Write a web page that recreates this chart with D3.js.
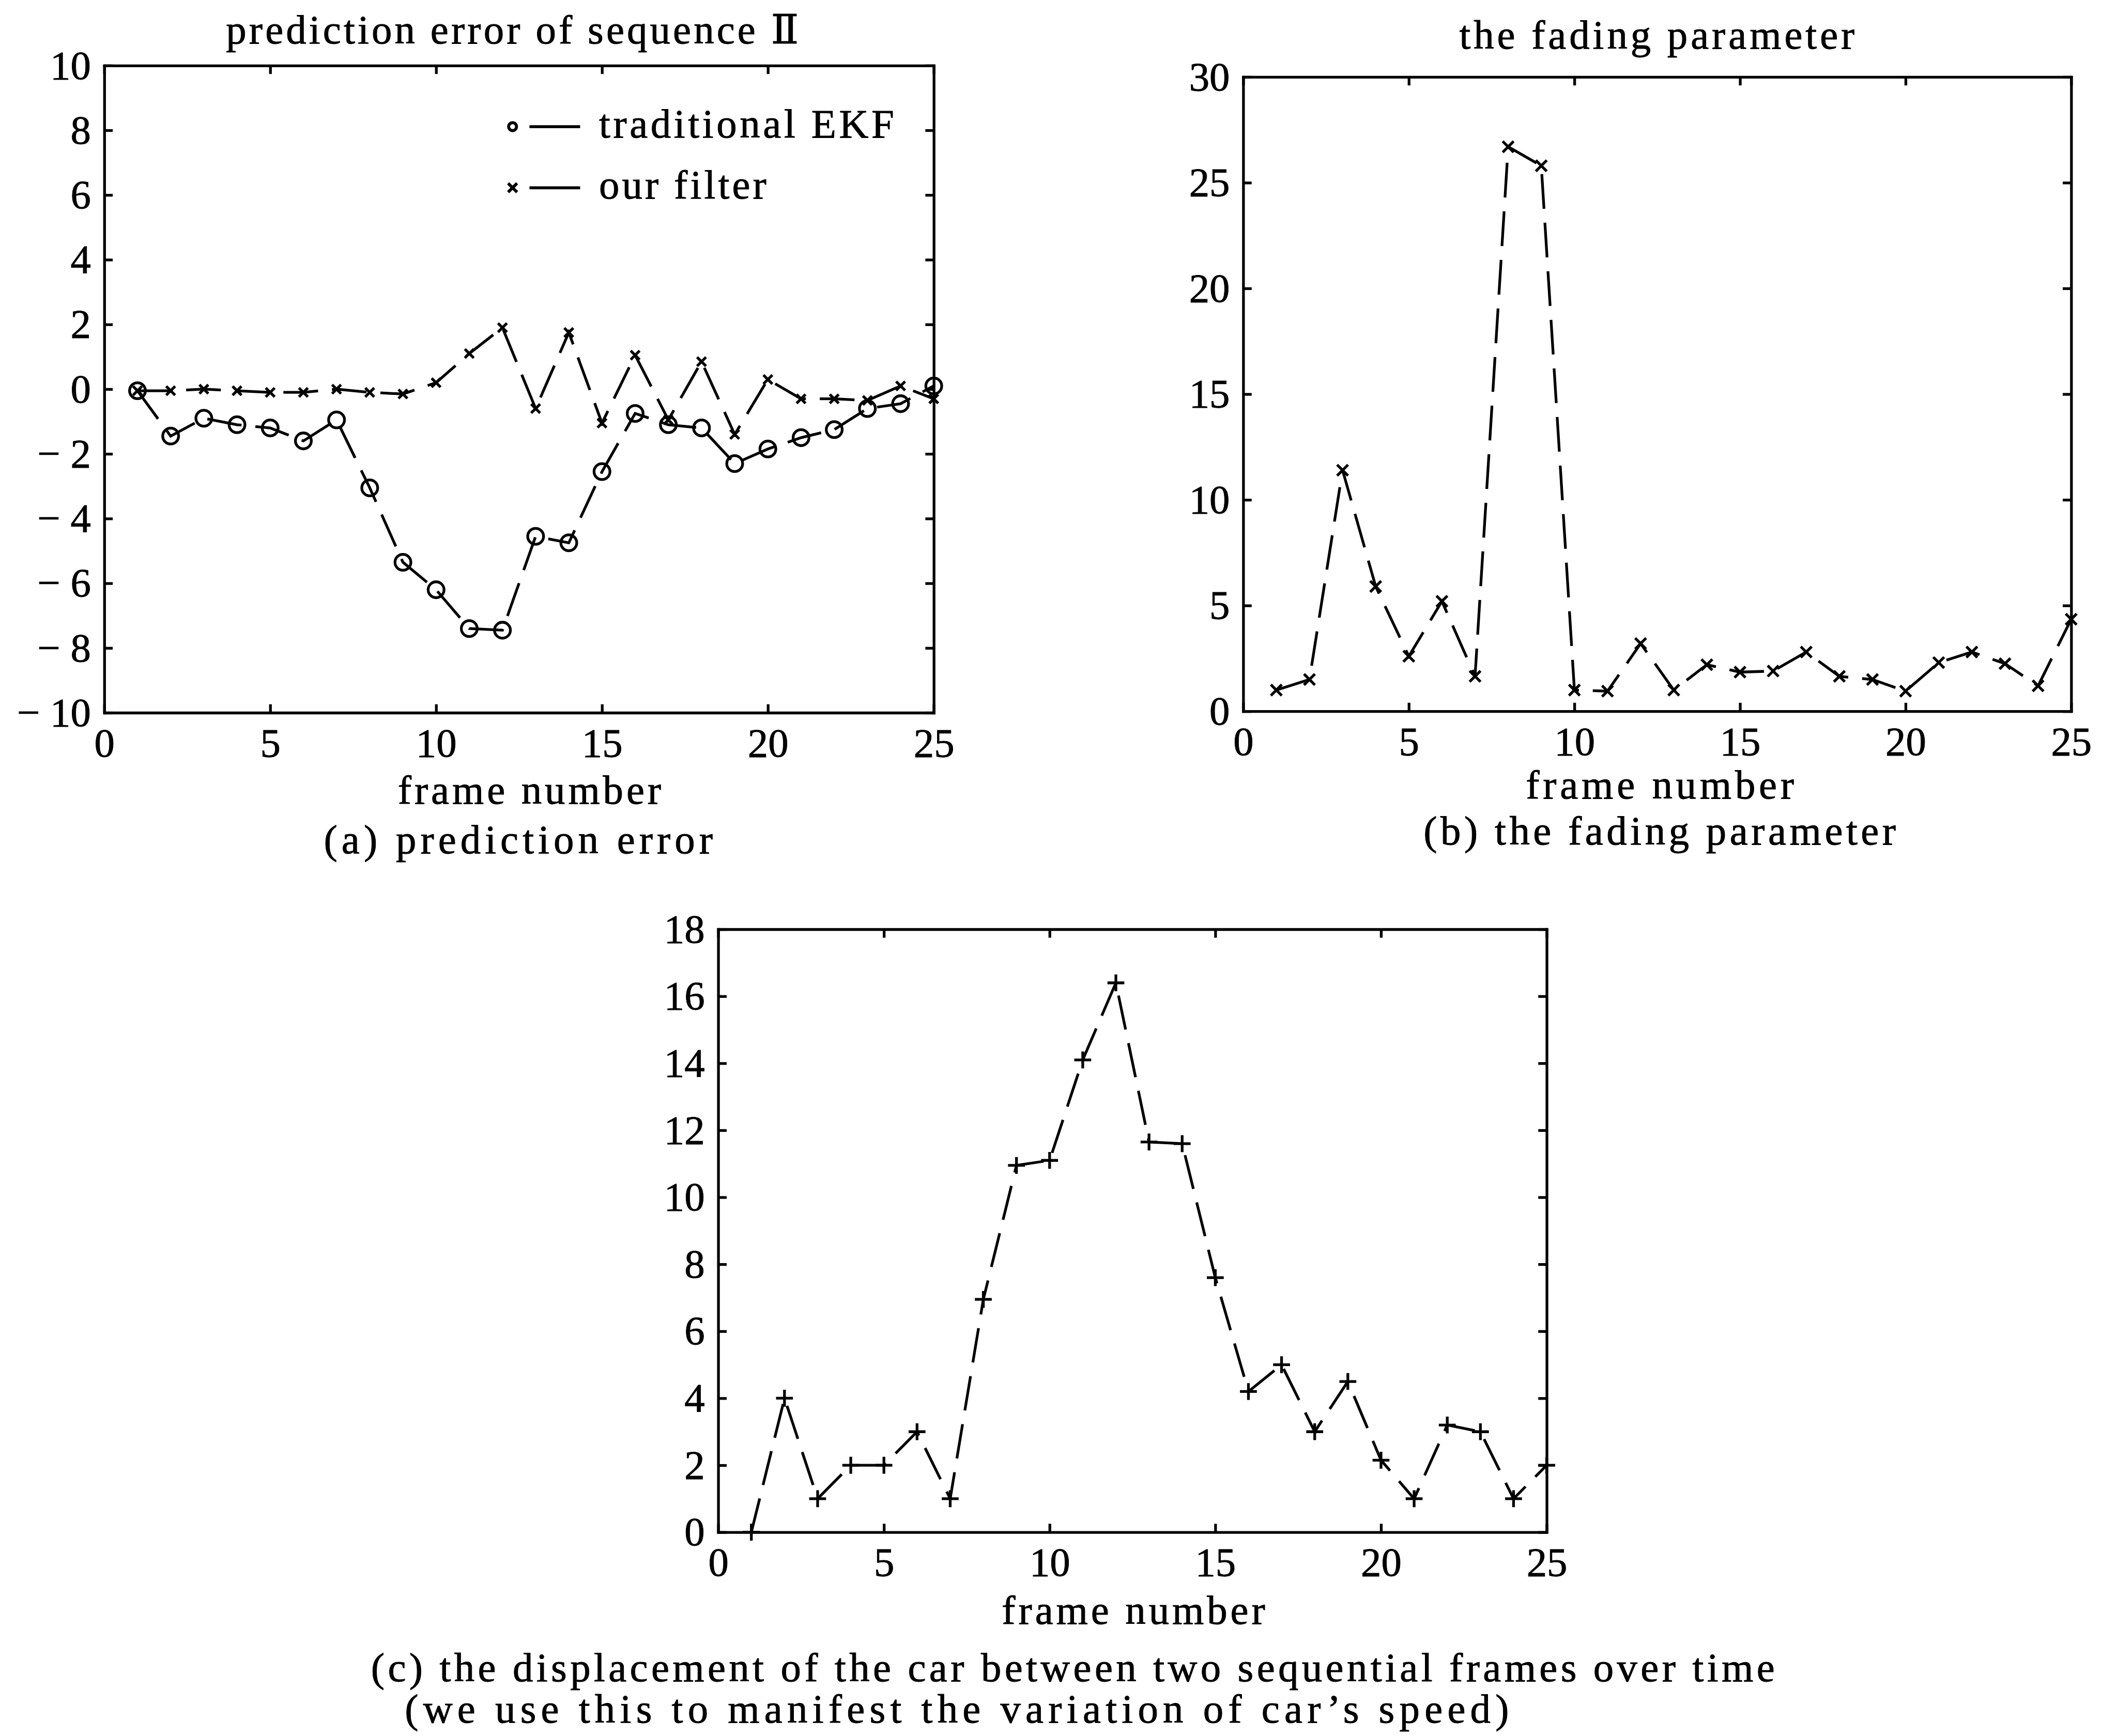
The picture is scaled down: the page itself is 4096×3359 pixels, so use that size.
<!DOCTYPE html>
<html><head><meta charset="utf-8">
<script src="https://cdn.jsdelivr.net/npm/d3@7/dist/d3.min.js"></script>
<style>html,body{margin:0;padding:0;background:#fff;}svg{display:block;}</style>
</head><body>
<script>
// ---------- data ----------
const frames = [1,2,3,4,5,6,7,8,9,10,11,12,13,14,15,16,17,18,19,20,21,22,23,24,25];
const errorEKF = [-0.05,-1.45,-0.9,-1.1,-1.2,-1.6,-0.95,-3.05,-5.35,-6.2,-7.4,-7.45,-4.55,-4.75,-2.55,-0.75,-1.1,-1.2,-2.3,-1.85,-1.5,-1.25,-0.6,-0.45,0.1];
const errorOurs = [-0.05,-0.05,0,-0.05,-0.1,-0.1,0,-0.1,-0.15,0.2,1.1,1.9,-0.6,1.75,-1.05,1.05,-0.95,0.85,-1.4,0.3,-0.3,-0.3,-0.35,0.1,-0.3];
const fadingParam = [1.0,1.5,11.4,5.9,2.6,5.2,1.65,26.7,25.8,1.0,0.95,3.2,1.0,2.2,1.85,1.9,2.8,1.65,1.5,0.95,2.3,2.8,2.25,1.2,4.35];
const displacement = [0,4.0,1.0,2.0,2.0,3.0,1.0,6.95,10.95,11.1,14.1,16.4,11.65,11.6,7.6,4.2,5.0,3.0,4.5,2.15,1.0,3.2,3.0,1.0,2.0];
const xTicks = [0,5,10,15,20,25];
const yTicksA = [-10,-8,-6,-4,-2,0,2,4,6,8,10];
const yTicksB = [0,5,10,15,20,25,30];
const yTicksC = [0,2,4,6,8,10,12,14,16,18];
const titleA = "prediction error of sequence \u2161";
const titleB = "the fading parameter";
const xLabel = "frame number";
const legendLabels = ["traditional EKF","our filter"];
const captionA = "(a) prediction error";
const captionB = "(b) the fading parameter";
const captionC1 = "(c)  the displacement of the car between two sequential frames over time";
const captionC2 = "(we use this to manifest the variation of car\u2019s speed)";

// ---------- setup ----------
const S = 0.961;
const FONT = "'Liberation Serif','DejaVu Serif',serif";
const FS = 82;
const LW = 5.5;
const svg = d3.select("body").append("svg").attr("width",4096).attr("height",3359);
const root = svg.append("g").attr("transform",`scale(${S})`);

function fmtA(d){ return d<0 ? "\u2212 " + (-d) : String(d); }

function panel(box, yDomain, yTicks, yFmt){
  const g = root.append("g");
  const x = d3.scaleLinear().domain([0,25]).range([box.L, box.R]);
  const y = d3.scaleLinear().domain(yDomain).range([box.B, box.T]);
  const tl = 17;
  const styleAxis = sel => {
    sel.select(".domain").attr("stroke","#000").attr("stroke-width",5.5);
    sel.selectAll(".tick line").attr("stroke","#000").attr("stroke-width",5.5);
    sel.selectAll(".tick text").attr("font-family",FONT).attr("font-size",FS).attr("fill","#000")
      .attr("stroke","#000").attr("stroke-width",1);
  };
  g.append("g").attr("transform",`translate(0,${box.B})`)
    .call(d3.axisBottom(x).tickValues(xTicks).tickSizeInner(-tl).tickSizeOuter(0).tickPadding(30))
    .call(styleAxis);
  g.append("g").attr("transform",`translate(0,${box.T})`)
    .call(d3.axisTop(x).tickValues(xTicks).tickSizeInner(-tl).tickSizeOuter(0).tickFormat(""))
    .call(styleAxis);
  g.append("g").attr("transform",`translate(${box.L},0)`)
    .call(d3.axisLeft(y).tickValues(yTicks).tickSizeInner(-tl).tickSizeOuter(0).tickPadding(27).tickFormat(yFmt||(d=>d)))
    .call(styleAxis);
  g.append("g").attr("transform",`translate(${box.R},0)`)
    .call(d3.axisRight(y).tickValues(yTicks).tickSizeInner(-tl).tickSizeOuter(0).tickFormat(""))
    .call(styleAxis);
  g.selectAll(".domain").attr("stroke-linecap","square");
  return {g,x,y};
}

function series(p, vals, marker, size){
  const pts = frames.map((f,i)=>({f, v: vals[i]}));
  const line = d3.line().x(d=>p.x(d.f)).y(d=>p.y(d.v));
  p.g.append("path").datum(pts).attr("d",line).attr("fill","none")
    .attr("stroke","#000").attr("stroke-width",LW).attr("stroke-dasharray","70,28");
  const mg = p.g.append("g").attr("stroke","#000").attr("stroke-width",LW).attr("fill","none");
  pts.forEach(d=>drawMarker(mg, p.x(d.f), p.y(d.v), marker, size));
}

function drawMarker(g, cx, cy, type, s){
  if(type==="o"){
    g.append("circle").attr("cx",cx).attr("cy",cy).attr("r",s);
  } else if(type==="x"){
    g.append("path").attr("d",`M${cx-s},${cy-s}L${cx+s},${cy+s}M${cx-s},${cy+s}L${cx+s},${cy-s}`);
  } else {
    g.append("path").attr("d",`M${cx-s},${cy}L${cx+s},${cy}M${cx},${cy-s}L${cx},${cy+s}`);
  }
}

function label(txt, x, y, w, anchor){
  const t = root.append("text").attr("x",x).attr("y",y).attr("font-family",FONT)
    .attr("font-size",FS).attr("fill","#000").attr("stroke","#000").attr("stroke-width",1)
    .attr("text-anchor",anchor||"start").text(txt);
  if(w) t.attr("textLength",w).attr("lengthAdjust","spacing");
  return t;
}

// ---------- panel A ----------
const pA = panel({L:210,R:1880,T:132,B:1435},[-10,10],yTicksA,fmtA);
series(pA, errorEKF, "o", 16);
series(pA, errorOurs, "x", 9);
label(titleA, 455, 87, 1153);
label(xLabel, 1066, 1618, 530, "middle");
label(captionA, 652, 1718, 783);
// legend
const lg = root.append("g").attr("stroke","#000").attr("stroke-width",6).attr("fill","none");
[["o",255],["x",378]].forEach(([m,ly],i)=>{
  drawMarker(lg, 1032, ly, m, m==="o"?8:9);
  lg.append("line").attr("x1",1066).attr("x2",1168).attr("y1",ly).attr("y2",ly);
  label(legendLabels[i], 1206, ly+22, i===0?594:337);
});

// ---------- panel B ----------
const pB = panel({L:2503,R:4170,T:155,B:1432},[0,30],yTicksB);
series(pB, fadingParam, "x", 11);
label(titleB, 2938, 98, 796);
label(xLabel, 3342, 1608, 540, "middle");
label(captionB, 2866, 1700, 951);

// ---------- panel C ----------
const pC = panel({L:1446,R:3114,T:1871,B:3085},[0,18],yTicksC);
series(pC, displacement, "+", 17);
label(xLabel, 2282, 3270, 530, "middle");
label(captionC1, 747, 3385, 2826);
label(captionC2, 815, 3468, 2223);
</script>
</body></html>
